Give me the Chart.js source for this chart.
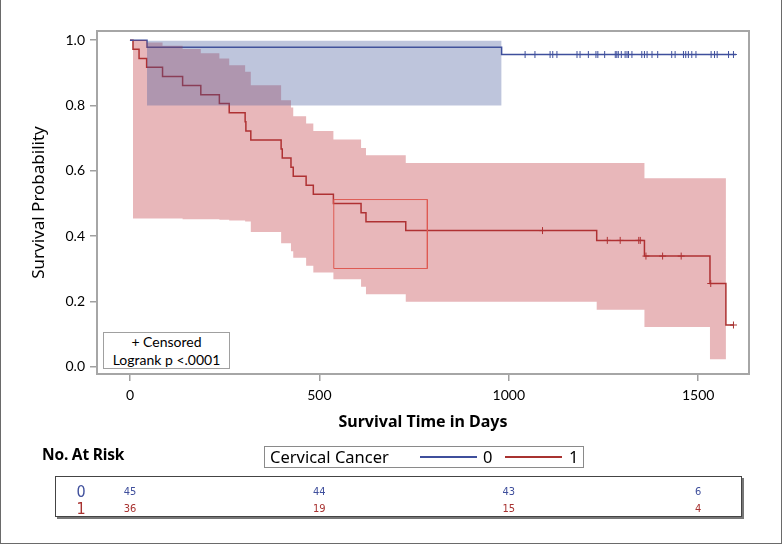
<!DOCTYPE html>
<html>
<head>
<meta charset="utf-8">
<script src="https://cdn.jsdelivr.net/npm/chart.js@4.4.1/dist/chart.umd.min.js"></script>
<style>
  html, body { margin: 0; padding: 0; background: #fff; }
  #wrap { position: relative; width: 782px; height: 544px; overflow: hidden; font-family: "Noto Sans", Lato, sans-serif; color: #000; }
  #wrap canvas { position: absolute; left: 0; top: 0; }
  #outer { position: absolute; left: 0; top: 0; width: 782px; height: 544px; box-sizing: border-box; border: 1px solid #6a6a6a; border-top: none; pointer-events: none; }
  .abs { position: absolute; white-space: nowrap; }
  #censorBox { left: 103px; top: 332px; width: 127px; height: 37px; box-sizing: border-box; border: 1px solid #a0a0a0; background: #fff; font-family: Lato, sans-serif; font-size: 14px; line-height: 17.5px; text-align: center; }
  #riskTitle { left: 42px; top: 443px; font-size: 15.5px; line-height: 22px; font-weight: bold; letter-spacing: -0.2px; }
  #legendBox { left: 264px; top: 446px; width: 320px; height: 22px; box-sizing: border-box; border: 1px solid #8a8a8a; font-size: 16.5px; line-height: 20px; }
  #legendBox .sw { position: absolute; top: 9px; height: 1.5px; }
  #riskTable { left: 55px; top: 476px; width: 687px; height: 41px; box-sizing: border-box; border: 1px solid #444; box-shadow: 2px 2px 0 #777; }
  .rowLab { font-family: "Liberation Sans Narrow", "DejaVu Sans Condensed", sans-serif; font-size: 16px; line-height: 16px; transform: translate(-50%, -50%); }
  .num { font-family: "Liberation Sans Narrow", "DejaVu Sans Condensed", sans-serif; font-size: 11px; line-height: 12px; transform: translate(-50%, -50%); }
</style>
</head>
<body>
<div id="wrap">
  <canvas id="km" width="782" height="544"></canvas>
  <div id="censorBox" class="abs">+ Censored<br>Logrank p &lt;.0001</div>
  <div id="riskTitle" class="abs">No. At Risk</div>
  <div id="legendBox" class="abs"></div>
  <div id="riskTable" class="abs"></div>
  <div id="outer"></div>
</div>
<script>
// axis ticks
var xTicks = [0, 500, 1000, 1500];
var yTicks = [0, 0.2, 0.4, 0.6, 0.8, 1.0];

// group 0 (no cervical cancer)
var noDays = [0, 45, 981, 1600];
var noSurv = [1, 0.978, 0.956, 0.956];
var noBandDays = [45, 981];
var noBandUpper = [0.998, 0.998];
var noBandLower = [0.80, 0.80];
var noCensorDays = [1043, 1069, 1109, 1116, 1127, 1180, 1188, 1210, 1230, 1235, 1253, 1281, 1285, 1289, 1297, 1307, 1312, 1316,
  1325, 1351, 1358, 1365, 1378, 1393, 1430, 1439, 1461, 1467, 1474, 1483, 1494, 1534, 1543, 1550, 1580, 1593];
var noCensorSurv = [0.956, 0.956, 0.956, 0.956, 0.956, 0.956, 0.956, 0.956, 0.956, 0.956, 0.956, 0.956, 0.956, 0.956, 0.956, 0.956, 0.956, 0.956,
  0.956, 0.956, 0.956, 0.956, 0.956, 0.956, 0.956, 0.956, 0.956, 0.956, 0.956, 0.956, 0.956, 0.956, 0.956, 0.956, 0.956, 0.956];

// group 1 (cervical cancer)
var yesDays = [0, 8, 24, 44, 86, 139, 187, 236, 262, 304, 306, 319, 399, 402, 425, 431, 465, 484, 537, 610, 623, 728, 1232, 1358, 1531, 1573, 1593];
var yesSurv = [1, 0.972, 0.944, 0.917, 0.889, 0.861, 0.833, 0.806, 0.778, 0.75, 0.722, 0.694, 0.667, 0.639, 0.611, 0.583, 0.556, 0.528, 0.5, 0.472, 0.444, 0.417, 0.387, 0.339, 0.255, 0.128, 0.128];
var yesBandDays = [8, 44, 86, 139, 187, 236, 262, 304, 319, 399, 425, 431, 465, 484, 537, 610, 623, 728, 1232, 1358, 1531, 1573];
var yesBandUpper = [1.0, 0.993, 0.983, 0.973, 0.960, 0.944, 0.923, 0.903, 0.862, 0.816, 0.794, 0.767, 0.745, 0.722, 0.696, 0.670, 0.648, 0.624, 0.624, 0.577, 0.577, 0.577];
var yesBandLower = [0.454, 0.454, 0.454, 0.452, 0.452, 0.450, 0.448, 0.445, 0.413, 0.378, 0.354, 0.334, 0.309, 0.289, 0.268, 0.245, 0.222, 0.199, 0.175, 0.122, 0.023, 0.023];
var yesCensorDays = [1089, 1260, 1294, 1343, 1347, 1362, 1406, 1455, 1533, 1593];
var yesCensorSurv = [0.417, 0.387, 0.387, 0.387, 0.387, 0.339, 0.339, 0.339, 0.255, 0.128];

// highlighted box
var boxDays = [538, 785, 785, 538, 538];
var boxSurv = [0.512, 0.512, 0.301, 0.301, 0.512];

// number at risk
var groups = ['0', '1'];
var atRiskDays = [0, 500, 1000, 1500];
var atRiskNo = [45, 44, 43, 6];
var atRiskYes = [36, 19, 15, 4];

var blue = '#3f4f9c';
var red = '#a83230';

function pts(xs, ys) {
  var out = [];
  for (var i = 0; i < xs.length; i++) out.push({x: xs[i], y: ys[i]});
  return out;
}

var framePlugin = {
  id: 'frame',
  afterDatasetsDraw: function(chart) {
    var a = chart.chartArea, ctx = chart.ctx;
    ctx.save();
    ctx.strokeStyle = '#a6a6a6';
    ctx.lineWidth = 2;
    ctx.strokeRect(a.left, a.top, a.right - a.left, a.bottom - a.top);
    ctx.restore();
  }
};

var tickFont = {family: 'Lato', size: 14};

var chart = new Chart(document.getElementById('km'), {
  type: 'line',
  data: {
    datasets: [
      {data: pts(noBandDays, noBandUpper), stepped: true, borderWidth: 0, pointRadius: 0, fill: '+1', backgroundColor: 'rgba(69,89,155,0.35)'},
      {data: pts(noBandDays, noBandLower), stepped: true, borderWidth: 0, pointRadius: 0, fill: false},
      {data: pts(yesBandDays, yesBandUpper), stepped: true, borderWidth: 0, pointRadius: 0, fill: '+1', backgroundColor: 'rgba(189,49,58,0.35)'},
      {data: pts(yesBandDays, yesBandLower), stepped: true, borderWidth: 0, pointRadius: 0, fill: false},
      {data: pts(boxDays, boxSurv), borderColor: '#f07060', borderWidth: 1, pointRadius: 0, fill: false},
      {data: pts(noDays, noSurv), stepped: true, borderColor: blue, borderWidth: 1.5, pointRadius: 0, fill: false},
      {data: pts(yesDays, yesSurv), stepped: true, borderColor: red, borderWidth: 1.5, pointRadius: 0, fill: false},
      {type: 'scatter', data: pts(noCensorDays, noCensorSurv), pointStyle: 'cross', pointRadius: 3.5, borderColor: blue, borderWidth: 1},
      {type: 'scatter', data: pts(yesCensorDays, yesCensorSurv), pointStyle: 'cross', pointRadius: 3.5, borderColor: red, borderWidth: 1}
    ]
  },
  options: {
    responsive: false,
    animation: false,
    devicePixelRatio: 1,
    layout: {padding: {left: 0, top: 31, right: 33, bottom: 110}},
    plugins: {legend: {display: false}, tooltip: {enabled: false}},
    scales: {
      x: {
        type: 'linear', min: -87, max: 1634,
        afterBuildTicks: function(s) { s.ticks = xTicks.map(function(v) { return {value: v}; }); },
        afterFit: function(s) { s.height = 60; },
        grid: {drawOnChartArea: false, drawTicks: true, tickLength: 7, color: '#a0a0a0', lineWidth: 1.5},
        border: {display: false},
        ticks: {padding: 6, color: '#000', font: tickFont, maxRotation: 0, callback: function(v) { return String(v); }},
        title: {display: true, text: 'Survival Time in Days', color: '#000', font: {family: 'Noto Sans', size: 16, weight: 'bold'}, padding: {top: 0, bottom: 2}}
      },
      y: {
        type: 'linear', min: -0.022, max: 1.028,
        afterBuildTicks: function(s) { s.ticks = yTicks.map(function(v) { return {value: v}; }); },
        afterFit: function(s) { s.width = 97; },
        grid: {drawOnChartArea: false, drawTicks: true, tickLength: 7, color: '#a0a0a0', lineWidth: 1.5},
        border: {display: false},
        ticks: {padding: 5, color: '#000', font: tickFont, callback: function(v) { return v.toFixed(1); }},
        title: {display: true, text: 'Survival Probability', color: '#000', font: {family: 'Noto Sans', size: 17}, padding: {top: 29, bottom: 0}}
      }
    }
  },
  plugins: [framePlugin]
});

// legend
var legend = document.getElementById('legendBox');
legend.innerHTML =
  '<span class="abs" style="left:5px;top:0">Cervical Cancer</span>' +
  '<span class="sw" style="left:155px;width:57px;background:' + blue + '"></span>' +
  '<span class="abs" style="left:218px;top:0">' + groups[0] + '</span>' +
  '<span class="sw" style="left:240px;width:57px;background:' + red + '"></span>' +
  '<span class="abs" style="left:304px;top:0">' + groups[1] + '</span>';

// number at risk table, aligned to the x scale
var table = document.getElementById('riskTable');
var xs = chart.scales.x;
var rows = [atRiskNo, atRiskYes];
var rowColors = [blue, red];
var rowY = [14.5, 31.5];
var html = '';
for (var r = 0; r < rows.length; r++) {
  html += '<span class="abs rowLab" style="left:25px;top:' + rowY[r] + 'px;color:' + rowColors[r] + '">' + groups[r] + '</span>';
  for (var i = 0; i < atRiskDays.length; i++) {
    var px = xs.getPixelForValue(atRiskDays[i]) - 56;
    html += '<span class="abs num" style="left:' + px + 'px;top:' + rowY[r] + 'px;color:' + rowColors[r] + '">' + rows[r][i] + '</span>';
  }
}
table.innerHTML = html;
</script>
</body>
</html>
